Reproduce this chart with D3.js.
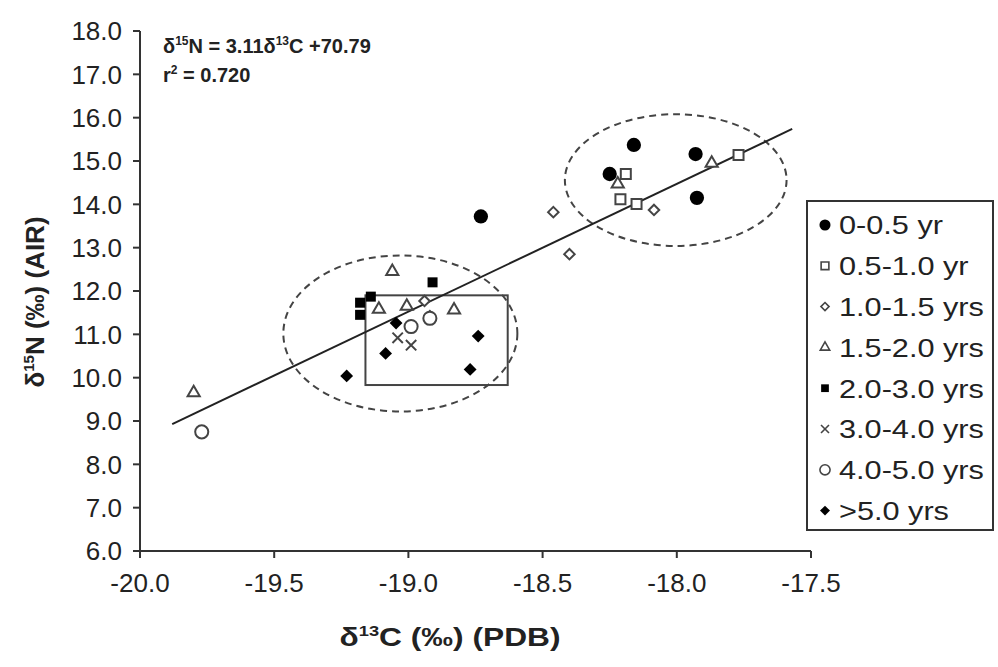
<!DOCTYPE html>
<html>
<head>
<meta charset="utf-8">
<script src="https://cdn.jsdelivr.net/npm/d3@7"></script>
<style>
  body { margin: 0; background: #fff; }
  text { font-family: "Liberation Sans", Arial, sans-serif; fill: #222; }
</style>
</head>
<body>
<div id="chart"></div>
<script>
// Isotope data by age class
const groups = ["0-0.5 yr", "0.5-1.0 yr", "1.0-1.5 yrs", "1.5-2.0 yrs", "2.0-3.0 yrs", "3.0-4.0 yrs", "4.0-5.0 yrs", ">5.0 yrs"];

const g00 = [[-18.16, 15.37], [-17.93, 15.16], [-18.25, 14.70], [-17.925, 14.15], [-18.73, 13.72]];
const g05 = [[-18.19, 14.70], [-18.21, 14.12], [-18.15, 14.01], [-17.77, 15.14]];
const g10 = [[-18.085, 13.87], [-18.46, 13.82], [-18.40, 12.85], [-18.94, 11.77], [-18.92, 11.42]];
const g15 = [[-18.22, 14.47], [-17.87, 14.95], [-19.06, 12.45], [-19.11, 11.58], [-19.006, 11.65], [-18.83, 11.56], [-19.80, 9.65]];
const g20 = [[-18.91, 12.20], [-19.18, 11.73], [-19.18, 11.45], [-19.14, 11.87]];
const g30 = [[-19.04, 10.92], [-18.99, 10.75]];
const g40 = [[-18.99, 11.18], [-18.92, 11.37], [-19.77, 8.75]];
const g50 = [[-19.046, 11.26], [-18.74, 10.96], [-19.085, 10.56], [-18.77, 10.19], [-19.23, 10.04]];
const series = [g00, g05, g10, g15, g20, g30, g40, g50];

const xTicks = [-20.0, -19.5, -19.0, -18.5, -18.0, -17.5];
const yTicks = [6, 7, 8, 9, 10, 11, 12, 13, 14, 15, 16, 17, 18];

// regression line as drawn, and the annotation shapes (data units)
const fitLine = [[-19.88, 8.93], [-17.57, 15.74]];
const ellipses = [
  { cx: -19.03, cy: 11.02, rx: 0.436, ry: 1.80 },
  { cx: -18.004, cy: 14.56, rx: 0.413, ry: 1.52 }
];
const box = { x0: -19.16, x1: -18.63, y0: 9.83, y1: 11.9 };

const W = 998, H = 667;
const svg = d3.select('#chart').append('svg').attr('width', W).attr('height', H);
svg.append('rect').attr('width', W).attr('height', H).attr('fill', '#fff');

const x = d3.scaleLinear().domain([-20, -17.5]).range([140, 811]);
const y = d3.scaleLinear().domain([6, 18]).range([551, 31]);

// symbol styles per age class
const styles = [
  { type: d3.symbolCircle, size: 160, fill: '#000', stroke: 'none' },
  { type: d3.symbolSquare, size: 100, fill: '#fff', stroke: '#444' },
  { type: d3.symbolDiamond2, size: 70, fill: '#fff', stroke: '#444' },
  { type: d3.symbolTriangle, size: 64, fill: '#fff', stroke: '#444' },
  { type: d3.symbolSquare, size: 100, fill: '#000', stroke: 'none' },
  { type: d3.symbolTimes, size: 72, fill: 'none', stroke: '#444' },
  { type: d3.symbolCircle, size: 135, fill: '#fff', stroke: '#444' },
  { type: d3.symbolDiamond2, size: 105, fill: '#000', stroke: 'none' }
];

// axes
const axisColor = '#333';
svg.append('line').attr('x1', x(-20)).attr('x2', x(-20)).attr('y1', y(18)).attr('y2', y(6))
  .attr('stroke', axisColor).attr('stroke-width', 2);
svg.append('line').attr('x1', x(-20)).attr('x2', x(-17.5)).attr('y1', y(6)).attr('y2', y(6))
  .attr('stroke', axisColor).attr('stroke-width', 2);

svg.selectAll('.ytick').data(yTicks).enter().append('line')
  .attr('x1', x(-20) - 7).attr('x2', x(-20)).attr('y1', d => y(d)).attr('y2', d => y(d))
  .attr('stroke', axisColor).attr('stroke-width', 2);
svg.selectAll('.ylab').data(yTicks).enter().append('text')
  .attr('x', x(-20) - 18).attr('y', d => y(d)).attr('dy', '0.36em')
  .attr('text-anchor', 'end').attr('font-size', '26px').text(d => d.toFixed(1));

svg.selectAll('.xtick').data(xTicks).enter().append('line')
  .attr('x1', d => x(d)).attr('x2', d => x(d)).attr('y1', y(6)).attr('y2', y(6) + 7)
  .attr('stroke', axisColor).attr('stroke-width', 2);
svg.selectAll('.xlab').data(xTicks).enter().append('text')
  .attr('x', d => x(d)).attr('y', y(6) + 41)
  .attr('text-anchor', 'middle').attr('font-size', '26px').text(d => d.toFixed(1));

// axis titles (the source figure is slightly stretched horizontally)
const xt = svg.append('text').attr('transform', 'translate(450,646) scale(1.22,1)').attr('text-anchor', 'middle')
  .attr('font-size', '26px').attr('font-weight', 'bold');
xt.append('tspan').text('δ');
xt.append('tspan').attr('font-size', '15px').attr('dy', '-10').text('13');
xt.append('tspan').attr('dy', '10').text('C (‰) (PDB)');

const yt = svg.append('text').attr('transform', 'translate(44,302) rotate(-90)').attr('text-anchor', 'middle')
  .attr('font-size', '26px').attr('font-weight', 'bold');
yt.append('tspan').text('δ');
yt.append('tspan').attr('font-size', '15px').attr('dy', '-10').text('15');
yt.append('tspan').attr('dy', '10').text('N (‰) (AIR)');

// equation
const eq = svg.append('text').attr('x', 163).attr('y', 53).attr('font-size', '20px').attr('font-weight', 'bold');
eq.append('tspan').text('δ');
eq.append('tspan').attr('font-size', '12px').attr('dy', '-8').text('15');
eq.append('tspan').attr('dy', '8').text('N = 3.11δ');
eq.append('tspan').attr('font-size', '12px').attr('dy', '-8').text('13');
eq.append('tspan').attr('dy', '8').text('C +70.79');
const r2 = svg.append('text').attr('x', 163).attr('y', 82).attr('font-size', '20px').attr('font-weight', 'bold');
r2.append('tspan').text('r');
r2.append('tspan').attr('font-size', '12px').attr('dy', '-8').text('2');
r2.append('tspan').attr('dy', '8').text(' = 0.720');

// dashed ellipses and box
svg.selectAll('.ell').data(ellipses).enter().append('ellipse')
  .attr('cx', d => x(d.cx)).attr('cy', d => y(d.cy))
  .attr('rx', d => x(d.cx + d.rx) - x(d.cx)).attr('ry', d => y(d.cy) - y(d.cy + d.ry))
  .attr('fill', 'none').attr('stroke', '#444').attr('stroke-width', 2).attr('stroke-dasharray', '7,5');

svg.append('rect').attr('x', x(box.x0)).attr('y', y(box.y1))
  .attr('width', x(box.x1) - x(box.x0)).attr('height', y(box.y0) - y(box.y1))
  .attr('fill', 'none').attr('stroke', '#444').attr('stroke-width', 2);

// fit line
svg.append('path').attr('d', d3.line().x(d => x(d[0])).y(d => y(d[1]))(fitLine))
  .attr('fill', 'none').attr('stroke', '#222').attr('stroke-width', 2);

// points
series.forEach((pts, i) => {
  const s = styles[i];
  svg.selectAll('.p' + i).data(pts).enter().append('path')
    .attr('transform', d => `translate(${x(d[0])},${y(d[1])})`)
    .attr('d', d3.symbol().type(s.type).size(s.size))
    .attr('fill', s.fill).attr('stroke', s.stroke).attr('stroke-width', 2);
});

// legend
const lg = svg.append('g').attr('transform', 'translate(807,201)');
lg.append('rect').attr('width', 186).attr('height', 329)
  .attr('fill', '#fff').attr('stroke', '#333').attr('stroke-width', 2);
groups.forEach((name, i) => {
  const s = styles[i];
  const cy = 24 + i * 40.8;
  lg.append('path').attr('transform', `translate(18,${cy})`)
    .attr('d', d3.symbol().type(s.type).size(s.size * 0.6))
    .attr('fill', s.fill).attr('stroke', s.stroke).attr('stroke-width', 1.6);
  lg.append('text').attr('transform', `translate(32,${cy}) scale(1.18,1)`).attr('dy', '0.36em')
    .attr('font-size', '26px').text(name);
});
</script>
</body>
</html>
